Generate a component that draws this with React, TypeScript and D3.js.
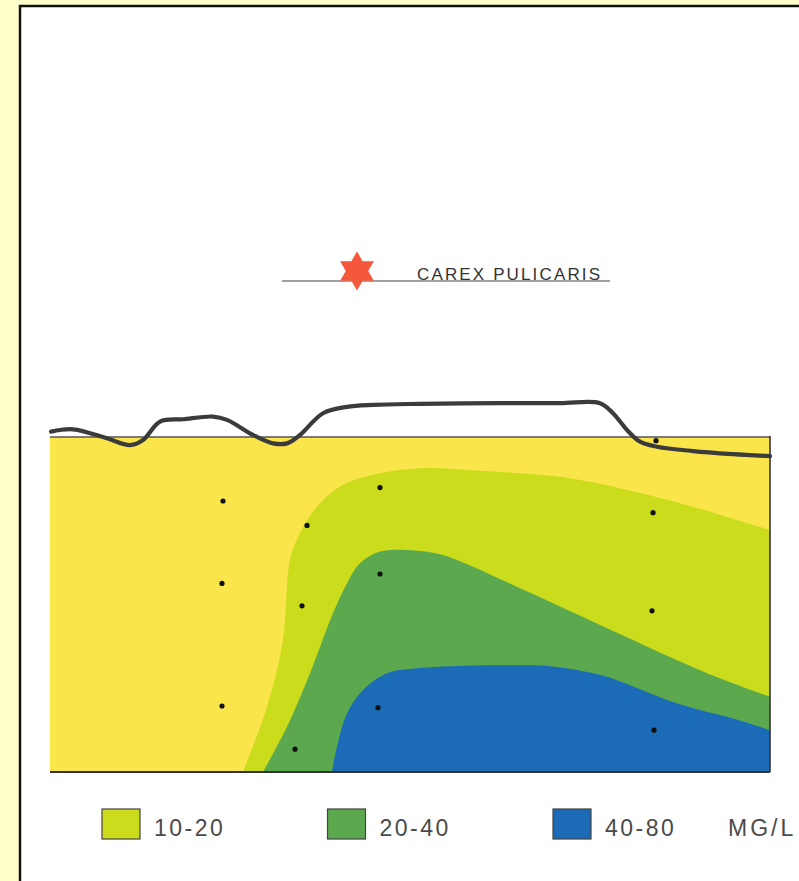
import React from "react";
import * as d3 from "d3";

// Transect: distance along the profile (m) and depth below the reference level (cm).
// Negative depths lie above the reference level (ground surface relief).

const surfaceProfile: [number, number][] = [
  [0.1, -1.6], [2.3, -2.3], [5.7, 0.4], [8.0, 2.4], [9.3, 0.9], [11.0, -4.6],
  [13.3, -5.3], [16.3, -6.1], [17.7, -5.1], [20.3, -0.6], [22.3, 1.9], [23.7, 1.9],
  [25.0, -0.6], [27.3, -7.1], [29.7, -9.0], [32.3, -9.6], [37.0, -9.9], [45.0, -10.1],
  [51.0, -10.1], [55.0, -10.1], [56.3, -7.1], [57.7, -2.1], [59.0, 1.4], [60.7, 2.9],
  [64.3, 4.2], [68.3, 5.1], [72.0, 5.7],
];

// Isolines (mg/L) bounding each concentration class, from the floor of the section upward.
const isoline10: [number, number][] = [
  [19.3, 100], [21.7, 80.5], [23.3, 60.6], [24.0, 36.7], [25.0, 28.7], [26.7, 20.8],
  [29.0, 14.8], [32.3, 11.3], [37.0, 9.3], [43.0, 10.1], [51.0, 11.9], [57.7, 15.8],
  [64.3, 20.8], [68.7, 24.8], [72.0, 27.8],
];

const isoline20: [number, number][] = [
  [21.3, 100], [23.7, 86.5], [26.0, 70.5], [28.3, 52.6], [29.7, 43.7], [31.0, 37.7],
  [33.0, 34.2], [35.7, 33.7], [39.0, 35.0], [42.6, 39.1], [45.0, 42.4], [48.3, 46.9],
  [51.7, 51.6], [55.0, 56.1], [58.3, 60.6], [61.7, 65.3], [65.0, 69.6], [68.3, 73.5],
  [71.0, 76.5], [72.0, 77.5],
];

const isoline40: [number, number][] = [
  [28.2, 100], [28.7, 92.4], [29.7, 82.5], [31.3, 75.5], [33.7, 70.5], [36.7, 69.0],
  [40.3, 68.4], [45.0, 68.1], [50.0, 68.4], [55.0, 71.0], [58.3, 74.5], [61.7, 78.5],
  [65.0, 81.5], [68.3, 84.0], [71.0, 86.5], [72.0, 87.5],
];

// Sampling points
const sampleDistance = [17.3, 17.2, 17.2, 25.7, 25.2, 24.5, 33.0, 33.0, 32.8, 60.6, 60.3, 60.2, 60.4];
const sampleDepth = [19.1, 43.7, 80.3, 26.4, 50.4, 93.2, 15.1, 40.9, 80.8, 1.1, 22.6, 51.9, 87.5];

const classLabels = ["10-20", "20-40", "40-80"];
const classColors = ["#CADC1C", "#5BA84E", "#1C6BB6"];
const baseColor = "#FAE54B";
const unitLabel = "MG/L";
const speciesName = "CAREX PULICARIS";

const W = 799;
const H = 881;
const plot = { left: 50, right: 770, top: 437, bottom: 772 };

const x = d3.scaleLinear().domain([0, 72]).range([plot.left, plot.right]);
const y = d3.scaleLinear().domain([0, 100]).range([plot.top, plot.bottom]);

const curve = d3
  .line<[number, number]>()
  .x((d) => x(d[0]))
  .y((d) => y(d[1]))
  .curve(d3.curveCatmullRom.alpha(0.5));

// Closed region: isoline, then down the right edge and back along the floor.
function regionPath(iso: [number, number][]) {
  return `${curve(iso)}L${x(72)},${y(100)}Z`;
}

function starPoints(cx: number, cy: number, R: number, r: number) {
  const pts: string[] = [];
  for (let i = 0; i < 12; i++) {
    const a = -Math.PI / 2 + (i * Math.PI) / 6;
    const rad = i % 2 === 0 ? R : r;
    pts.push(`${cx + rad * Math.cos(a)},${cy + rad * Math.sin(a)}`);
  }
  return pts.join(" ");
}

export default function App() {
  const isolines = [isoline10, isoline20, isoline40];
  const font = "'Liberation Sans', Arial, Helvetica, sans-serif";
  return (
    <svg
      width={W}
      height={H}
      viewBox={`0 0 ${W} ${H}`}
      style={{ position: "absolute", left: 0, top: 0, display: "block" }}
    >
      <rect x={0} y={0} width={W} height={H} fill="#FFFFCC" />
      <rect x={20} y={6} width={W + 20} height={H + 20} fill="#FFFFFF" stroke="#111" strokeWidth={2.5} />

      {/* species marker */}
      <line x1={282} x2={610} y1={281} y2={281} stroke="#444" strokeWidth={1.2} />
      <polygon points={starPoints(357, 271, 19.5, 11.2)} fill="#F4573A" />
      <text
        x={417}
        y={279.5}
        fontFamily={font}
        fontSize={17}
        fill="#333"
        textLength={183}
        lengthAdjust="spacing"
      >
        {speciesName}
      </text>

      <defs>
        <clipPath id="section">
          <rect x={plot.left} y={plot.top} width={plot.right - plot.left} height={plot.bottom - plot.top} />
        </clipPath>
      </defs>

      <g clipPath="url(#section)">
        <rect
          x={plot.left}
          y={plot.top}
          width={plot.right - plot.left}
          height={plot.bottom - plot.top}
          fill={baseColor}
        />
        {isolines.map((iso, i) => (
          <path key={i} d={regionPath(iso)} fill={classColors[i]} />
        ))}
      </g>

      {/* section frame */}
      <line x1={plot.left} x2={plot.right} y1={plot.top} y2={plot.top} stroke="#555" strokeWidth={1.4} />
      <line x1={plot.right} x2={plot.right} y1={plot.top - 1} y2={plot.bottom} stroke="#333" strokeWidth={1.6} />
      <line x1={plot.left} x2={plot.right} y1={plot.bottom} y2={plot.bottom} stroke="#333" strokeWidth={2} />

      {/* ground surface */}
      <path d={curve(surfaceProfile) ?? ""} fill="none" stroke="#3b3b3b" strokeWidth={4.2} strokeLinecap="round" />

      {sampleDistance.map((d, i) => (
        <circle key={i} cx={x(d)} cy={y(sampleDepth[i])} r={2.6} fill="#111" />
      ))}

      {/* legend */}
      {classLabels.map((lab, i) => {
        const bx = 102 + i * 225.5;
        return (
          <g key={lab}>
            <rect x={bx} y={809} width={38} height={30} fill={classColors[i]} stroke="#444" strokeWidth={1.2} />
            <text x={bx + 52} y={836} fontFamily={font} fontSize={23} fill="#4a4a4a" letterSpacing={2.5}>
              {lab}
            </text>
          </g>
        );
      })}
      <text x={728} y={836} fontFamily={font} fontSize={23} fill="#4a4a4a" letterSpacing={3}>
        {unitLabel}
      </text>
    </svg>
  );
}
